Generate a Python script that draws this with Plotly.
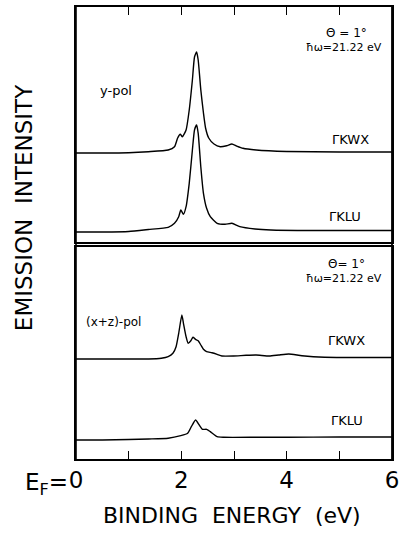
import plotly.graph_objects as go

# ---------------- data ----------------
# Binding energy (eV) and emission intensity (arb. units, above each curve's baseline)
E_ypol_KWX = [0, 0.5, 1.0, 1.375, 1.75, 1.87, 1.93, 1.98, 2.02, 2.09, 2.15, 2.21, 2.25, 2.29, 2.32,
              2.37, 2.42, 2.46, 2.52, 2.62, 2.74, 2.86, 2.96, 3.05, 3.17, 3.42, 4.0, 5.0, 6.0]
I_ypol_KWX = [0, 0, 0.3, 1.3, 3, 6.3, 15, 18.7, 16.3, 23, 43, 73, 96, 101, 93,
              63, 40, 25, 15, 9, 6.3, 7.3, 9, 7, 4.7, 3, 1.5, 1, 1]

E_ypol_KLU = [0, 0.5, 1.0, 1.375, 1.75, 1.87, 1.95, 1.99, 2.04, 2.09, 2.15, 2.21, 2.25, 2.29, 2.32,
              2.37, 2.42, 2.48, 2.55, 2.68, 2.83, 2.96, 3.11, 3.4, 3.7, 4.5, 6.0]
I_ypol_KLU = [0, 0, 0.5, 2.5, 4.7, 8.7, 15.3, 22, 17.7, 25.3, 48.7, 82, 102, 107, 98.7,
              65, 38.7, 23.7, 15.3, 8.7, 7.7, 8.7, 5.3, 3, 2, 1.5, 1.5]

E_xzpol_KWX = [0, 0.5, 1.0, 1.38, 1.62, 1.75, 1.84, 1.90, 1.95, 2.01, 2.04, 2.09, 2.13, 2.18, 2.22,
               2.27, 2.32, 2.37, 2.42, 2.48, 2.58, 2.68, 2.77, 2.99, 3.23, 3.42, 3.67, 3.85, 4.04,
               4.29, 4.72, 5.3, 6.0]
I_xzpol_KWX = [0, 0, 0, 0, 0.7, 2.3, 5.7, 12.3, 25.7, 44, 35.7, 22.3, 15.7, 18.3, 21.7,
               19.7, 18.3, 14, 9.7, 7.3, 6.3, 4.7, 3, 3, 3.7, 4, 3, 4, 5,
               3.3, 1.7, 1.5, 1.5]

E_xzpol_KLU = [0, 0.5, 1.0, 1.38, 1.75, 1.99, 2.12, 2.19, 2.27, 2.34, 2.40, 2.48, 2.55, 2.68,
               2.80, 3.42, 4.0, 5.0, 6.0]
I_xzpol_KLU = [0, 0, 0.5, 1, 1.7, 4.3, 6.7, 13.3, 20, 15, 10.7, 10.7, 8.3, 3.3,
               2.7, 2.7, 2.8, 3, 3]

# vertical offsets of the stacked spectra
OFF_ypol_KWX = 89
OFF_ypol_KLU = 10
OFF_xzpol_KWX = 100
OFF_xzpol_KLU = 19

x_tickvals = [0, 1, 2, 3, 4, 5, 6]
x_ticktext = ["0", " ", "2", " ", "4", " ", "6"]
mid_tickvals = [1, 2, 3, 4, 5]

# ---------------- layout geometry ----------------
W, H = 406, 537
L, R, T, B = 76, 399, 7, 459
pw, ph = R - L, B - T


def px(x):
    return (x - L) / pw


def py(y):
    return (B - y) / ph


FONT = "DejaVu Sans"

fig = go.Figure()


def add(E, I, off, ax):
    fig.add_trace(go.Scatter(x=E, y=[v + off for v in I], mode="lines",
                             line=dict(color="black", width=1.4, shape="spline", smoothing=0.5),
                             xaxis=ax[0], yaxis=ax[1], hoverinfo="skip", showlegend=False))


add(E_ypol_KWX, I_ypol_KWX, OFF_ypol_KWX, ("x2", "y2"))
add(E_ypol_KLU, I_ypol_KLU, OFF_ypol_KLU, ("x2", "y2"))
add(E_xzpol_KWX, I_xzpol_KWX, OFF_xzpol_KWX, ("x", "y"))
add(E_xzpol_KLU, I_xzpol_KLU, OFF_xzpol_KLU, ("x", "y"))

lower_top = py(247)
upper_bot = py(242)

axcommon = dict(range=[0, 6], showgrid=False, zeroline=False, showline=True,
                linecolor="black", linewidth=1.6, tickcolor="black", tickwidth=1.4)

fig.update_layout(
    width=W, height=H,
    margin=dict(l=L, r=W - R, t=T, b=H - B),
    paper_bgcolor="white", plot_bgcolor="white",
    font=dict(family=FONT, color="black"),
    xaxis=dict(**axcommon, anchor="y", side="bottom", mirror=True, ticks="inside", ticklen=8,
               tickvals=x_tickvals, ticktext=x_ticktext,
               tickfont=dict(family=FONT, size=23, color="black"), ticklabelstandoff=0),
    xaxis2=dict(**axcommon, anchor="y2", side="top", mirror=True, ticks="inside", ticklen=8,
                tickvals=x_tickvals, showticklabels=False),
    xaxis3=dict(range=[0, 6], overlaying="x", anchor="y", side="top", showline=False,
                showgrid=False, zeroline=False, ticks="outside", ticklen=7, tickwidth=1.4,
                tickcolor="black", tickvals=mid_tickvals, showticklabels=False),
    xaxis4=dict(range=[0, 6], overlaying="x", anchor="y", side="top", showline=False,
                showgrid=False, zeroline=False, ticks="inside", ticklen=3, tickwidth=1.4,
                tickcolor="black", tickvals=mid_tickvals, showticklabels=False),
    yaxis=dict(domain=[0, lower_top], range=[0, 212], showline=True, mirror=True,
               linecolor="black", linewidth=1.6, showgrid=False, zeroline=False,
               showticklabels=False, ticks=""),
    yaxis2=dict(domain=[upper_bot, 1], range=[0, 235], showline=True, mirror=True,
                linecolor="black", linewidth=1.6, showgrid=False, zeroline=False,
                showticklabels=False, ticks=""),
)

# continuous side frame
fig.add_shape(type="line", xref="paper", yref="paper", x0=0, x1=0, y0=0, y1=1,
              line=dict(color="black", width=1.6))
fig.add_shape(type="line", xref="paper", yref="paper", x0=1, x1=1, y0=0, y1=1,
              line=dict(color="black", width=1.8))


def note(text, x, y, size, xanchor="center", angle=0):
    fig.add_annotation(text=text, xref="paper", yref="paper", x=px(x), y=py(y),
                       xanchor=xanchor, yanchor="middle", showarrow=False, textangle=angle,
                       font=dict(family=FONT, size=size, color="black"))


note("Θ = 1°", 352, 33, 12)
note("ħω=21.22 eV", 350, 47, 11)
note("y-pol", 117, 90, 13)
note("ΓKWX", 357, 139, 13)
note("ΓKLU", 351, 217, 13)
note("Θ= 1°", 352, 264, 12)
note("ħω=21.22 eV", 350, 278, 11)
note("(x+z)-pol", 114, 322, 12)
note("ΓKWX", 353, 340, 13)
note("ΓKLU", 353, 420, 13)

note("E<sub>F</sub>=", 70, 484, 23, xanchor="right")
note("BINDING  ENERGY  (eV)", 235, 515, 22)
note("EMISSION  INTENSITY", 23, 208, 23, angle=-90)

fig.write_html("out.html")
